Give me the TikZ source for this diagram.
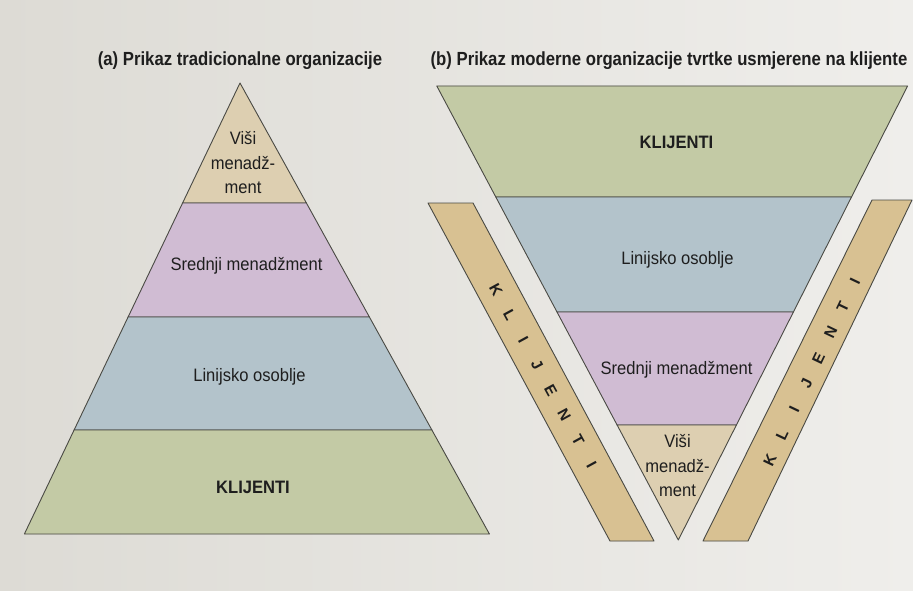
\documentclass[tikz,border=0pt]{standalone}
\usepackage{fontspec}
\setmainfont{Liberation Sans}
\newfontfamily\condfont[FakeStretch=0.92]{Liberation Sans}
\newfontfamily\titlefont[FakeStretch=0.88]{Liberation Sans}
\definecolor{bgL}{HTML}{DDDBD5}
\definecolor{bgR}{HTML}{EFEEEB}
\definecolor{tanT}{HTML}{DDCFB1}
\definecolor{lav}{HTML}{D0BCD3}
\definecolor{blu}{HTML}{B3C3CB}
\definecolor{grn}{HTML}{C3CAA5}
\definecolor{barc}{HTML}{D8C192}
\definecolor{edge}{HTML}{4A4A44}
\definecolor{ink}{HTML}{1E1E1E}
\tikzset{
  tier/.style={draw=edge, line width=0.9pt, line join=round},
  shadowshape/.style={fill=black, fill opacity=0.15, draw=none},
  lbl/.style={text=ink, font=\condfont\fontsize{18}{24.5}\selectfont, inner sep=0pt, align=center},
  blbl/.style={text=ink, font=\condfont\bfseries\fontsize{18}{22}\selectfont, inner sep=0pt},
  ttl/.style={text=ink, font=\titlefont\bfseries\fontsize{19}{22}\selectfont, inner sep=0pt, anchor=base},
  barletter/.style={text=ink, font=\bfseries\fontsize{15.5}{17}\selectfont, inner sep=0pt, sloped},
}
\begin{document}
\begin{tikzpicture}[x=1pt,y=1pt]
\useasboundingbox (0,0) rectangle (913,-591);
\shade[left color=bgL, right color=bgR] (0,0) rectangle (913,-591);

% ---------- left pyramid coordinates ----------
\coordinate (pA) at (240,-83);
\coordinate (pL1) at (182.6,-203); \coordinate (pR1) at (306.4,-203);
\coordinate (pL2) at (128.1,-317); \coordinate (pR2) at (369.4,-317);
\coordinate (pL3) at (74.1,-430);  \coordinate (pR3) at (431.9,-430);
\coordinate (pL4) at (24.4,-534);  \coordinate (pR4) at (489.4,-534);

% ---------- right inverted triangle ----------
\coordinate (vL0) at (436.8,-86);  \coordinate (vR0) at (907.6,-86);
\coordinate (vL1) at (495.8,-197); \coordinate (vR1) at (851.5,-197);
\coordinate (vL2) at (557.0,-312); \coordinate (vR2) at (793.4,-312);
\coordinate (vL3) at (617.1,-425); \coordinate (vR3) at (736.4,-425);
\coordinate (vB) at (678.3,-540);

% ---------- bars ----------
\coordinate (b1a) at (428,-203); \coordinate (b1b) at (473,-203);
\coordinate (b1c) at (654,-541); \coordinate (b1d) at (610,-541);
\coordinate (b2a) at (872,-200); \coordinate (b2b) at (912,-200);
\coordinate (b2c) at (748,-541); \coordinate (b2d) at (703,-541);

% ---------- shadows ----------
\begin{scope}[shift={(7,-10)}]
  \fill[shadowshape] (pA) -- (pR4) -- (pL4) -- cycle;
  \fill[shadowshape] (vL0) -- (vR0) -- (vB) -- cycle;
  \fill[shadowshape] (b1a) -- (b1b) -- (b1c) -- (b1d) -- cycle;
  \fill[shadowshape] (b2a) -- (b2b) -- (b2c) -- (b2d) -- cycle;
\end{scope}

% ---------- left pyramid ----------
\filldraw[tier, fill=tanT] (pA) -- (pR1) -- (pL1) -- cycle;
\filldraw[tier, fill=lav] (pL1) -- (pR1) -- (pR2) -- (pL2) -- cycle;
\filldraw[tier, fill=blu] (pL2) -- (pR2) -- (pR3) -- (pL3) -- cycle;
\filldraw[tier, fill=grn] (pL3) -- (pR3) -- (pR4) -- (pL4) -- cycle;

% ---------- right triangle ----------
\filldraw[tier, fill=grn] (vL0) -- (vR0) -- (vR1) -- (vL1) -- cycle;
\filldraw[tier, fill=blu] (vL1) -- (vR1) -- (vR2) -- (vL2) -- cycle;
\filldraw[tier, fill=lav] (vL2) -- (vR2) -- (vR3) -- (vL3) -- cycle;
\filldraw[tier, fill=tanT] (vL3) -- (vR3) -- (vB) -- cycle;

% ---------- bars ----------
\filldraw[tier, fill=barc] (b1a) -- (b1b) -- (b1c) -- (b1d) -- cycle;
\filldraw[tier, fill=barc] (b2a) -- (b2b) -- (b2c) -- (b2d) -- cycle;

% ---------- titles ----------
\node[ttl] (ta) at (240,-66) {(a) Prikaz tradicionalne organizacije};
\node[ttl] (tb) at (669,-66) {(b) Prikaz moderne organizacije tvrtke usmjerene na klijente};

% ---------- left labels ----------
\node[lbl] (lvisi) at (243,-163) {Viši\\menadž-\\ment};
\node[lbl] (lsred) at (246.5,-266) {Srednji menadžment};
\node[lbl] (llin) at (249.5,-377) {Linijsko osoblje};
\node[blbl] (lkli) at (253,-487) {KLIJENTI};

% ---------- right labels ----------
\node[blbl] (rkli) at (676.5,-142) {KLIJENTI};
\node[lbl] (rlin) at (677.5,-260) {Linijsko osoblje};
\node[lbl] (rsred) at (676.5,-370) {Srednji menadžment};
\node[lbl] (rvisi) at (677.5,-466) {Viši\\menadž-\\ment};

% ---------- bar letters ----------
\coordinate (ls) at (496,-290); \coordinate (le) at (591.7,-465);
\path (ls) -- (le)
  node[barletter,pos=0] (l1) {K}
  node[barletter,pos=1/7] (l2) {L}
  node[barletter,pos=2/7] (l3) {I}
  node[barletter,pos=3/7] (l4) {J}
  node[barletter,pos=4/7] (l5) {E}
  node[barletter,pos=5/7] (l6) {N}
  node[barletter,pos=6/7] (l7) {T}
  node[barletter,pos=1] (l8) {I};
\coordinate (rs) at (770,-460); \coordinate (re) at (855,-281.7);
\path (rs) -- (re)
  node[barletter,pos=0] (r1) {K}
  node[barletter,pos=1/7] (r2) {L}
  node[barletter,pos=2/7] (r3) {I}
  node[barletter,pos=3/7] (r4) {J}
  node[barletter,pos=4/7] (r5) {E}
  node[barletter,pos=5/7] (r6) {N}
  node[barletter,pos=6/7] (r7) {T}
  node[barletter,pos=1] (r8) {I};
\end{tikzpicture}
\end{document}
